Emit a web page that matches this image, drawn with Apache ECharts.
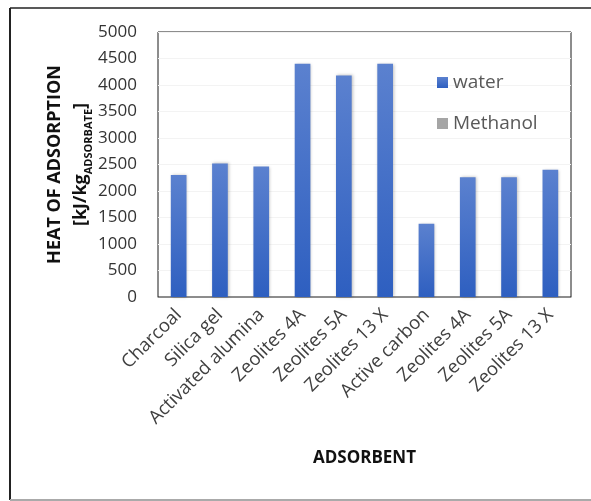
<!DOCTYPE html>
<html>
<head>
<meta charset="utf-8">
<script src="https://cdn.jsdelivr.net/npm/echarts@6/dist/echarts.min.js"></script>
<style>
  html, body { margin: 0; padding: 0; background: #fff; }
  #chart { width: 591px; height: 501px; }
</style>
</head>
<body>
<div id="chart"></div>
<script>
// Adsorbent materials along the x axis
const categories = ['Charcoal', 'Silica gel', 'Activated alumina', 'Zeolites 4A', 'Zeolites 5A',
  'Zeolites 13 X', 'Active carbon', 'Zeolites 4A', 'Zeolites 5A', 'Zeolites 13 X'];
// Heat of adsorption, kJ per kg of adsorbate
const waterValues = [2300, 2520, 2460, 4400, 4180, 4400, 1380, 2260, 2260, 2400];
const methanolValues = [null, null, null, null, null, null, null, null, null, null];
const yTicks = { min: 0, max: 5000, interval: 500 };

const FONT = '"Open Sans", Lato, sans-serif';
const chart = echarts.init(document.getElementById('chart'));

chart.setOption({
  animation: false,
  textStyle: { fontFamily: FONT },
  grid: {
    left: 158, top: 32, right: 20, bottom: 204,
    show: true, borderColor: '#1a1a1a', borderWidth: 1, backgroundColor: 'transparent'
  },
  legend: {
    orient: 'vertical',
    left: 432, top: 68,
    itemWidth: 11, itemHeight: 11, itemGap: 22,
    icon: 'rect',
    textStyle: { fontFamily: FONT, fontSize: 19, color: '#595959' },
    data: ['water', 'Methanol']
  },
  xAxis: {
    type: 'category',
    data: categories,
    axisLine: { lineStyle: { color: '#8c8c8c', width: 1 } },
    axisTick: { show: false },
    axisLabel: {
      rotate: 45, interval: 0, margin: 15,
      fontFamily: FONT, fontSize: 18.5, color: '#404040'
    },
    name: 'ADSORBENT',
    nameLocation: 'middle',
    nameGap: 153,
    nameMoveOverlap: false,
    nameTextStyle: { fontFamily: FONT, fontSize: 17, fontWeight: 'bold', color: '#111' }
  },
  yAxis: {
    type: 'value',
    min: yTicks.min, max: yTicks.max, interval: yTicks.interval,
    axisLine: { show: false },
    axisTick: { show: false },
    splitLine: { lineStyle: { color: '#f3f3f3', width: 1 } },
    axisLabel: {
      margin: 21, fontFamily: FONT, fontSize: 17, color: '#333',
      formatter: (v) => String(v)
    },
    name: '{t|HEAT OF ADSORPTION}\n{u|[kJ/kg}{s|ADSORBATE}{u|]}',
    nameLocation: 'middle',
    nameRotate: 90,
    nameGap: 64,
    nameMoveOverlap: false,
    nameTextStyle: {
      fontFamily: FONT,
      rich: {
        t: { fontFamily: FONT, fontSize: 18, fontWeight: 'bold', color: '#111', lineHeight: 26 },
        u: { fontFamily: FONT, fontSize: 18, fontWeight: 'bold', color: '#111', lineHeight: 26 },
        s: { fontFamily: FONT, fontSize: 11, fontWeight: 'bold', color: '#111', lineHeight: 26, verticalAlign: 'bottom', padding: [7, 0, 0, 0] }
      }
    }
  },
  series: [
    {
      name: 'water',
      type: 'bar',
      data: waterValues,
      barWidth: '38%',
      barGap: '-100%',
      itemStyle: {
        color: new echarts.graphic.LinearGradient(0, 0, 0, 1, [
          { offset: 0, color: '#5b81cf' },
          { offset: 1, color: '#2e5fc0' }
        ]),
        shadowColor: 'rgba(0,0,0,0.25)', shadowBlur: 3, shadowOffsetX: 1
      }
    },
    {
      name: 'Methanol',
      type: 'bar',
      data: methanolValues,
      barWidth: '38%',
      itemStyle: { color: '#a5a5a5' }
    }
  ],
  graphic: [
    { type: 'line', shape: { x1: 10, y1: 8, x2: 10, y2: 500 }, style: { stroke: '#222', lineWidth: 2 } },
    { type: 'line', shape: { x1: 10, y1: 8, x2: 591, y2: 8 }, style: { stroke: '#222', lineWidth: 1.5 } },
    { type: 'line', shape: { x1: 10, y1: 500, x2: 591, y2: 500 }, style: { stroke: '#aaa', lineWidth: 2 } }
  ]
});
</script>
</body>
</html>
